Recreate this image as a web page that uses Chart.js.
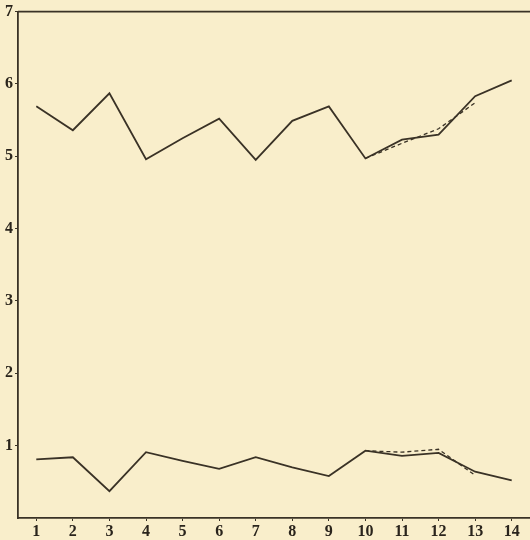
<!DOCTYPE html>
<html>
<head>
<meta charset="utf-8">
<script src="https://cdn.jsdelivr.net/npm/chart.js@4"></script>
<style>
  html, body { margin: 0; padding: 0; background: #f9eecb; }
  #wrap { width: 530px; height: 540px; position: relative; }
</style>
</head>
<body>
<div id="wrap"><canvas id="c" width="530" height="540"></canvas></div>
<script>
const days = [1, 2, 3, 4, 5, 6, 7, 8, 9, 10, 11, 12, 13, 14];
const upperSeries = [5.69, 5.36, 5.87, 4.96, 5.25, 5.52, 4.95, 5.49, 5.69, 4.97, 5.23, 5.30, 5.83, 6.05];
const lowerSeries = [0.81, 0.84, 0.37, 0.91, 0.79, 0.68, 0.84, 0.70, 0.58, 0.93, 0.86, 0.90, 0.64, 0.52];
const dashedDays = [10, 11, 12, 13];
const upperDashed = [4.97, 5.18, 5.38, 5.74];
const lowerDashed = [0.93, 0.91, 0.95, 0.59];
const xTickLabels = [1, 2, 3, 4, 5, 6, 7, 8, 9, 10, 11, 12, 13, 14];
const yTickLabels = [1, 2, 3, 4, 5, 6, 7];

const ink = '#3a3226';
const pts = (xs, ys) => xs.map((x, i) => ({ x: x, y: ys[i] }));

const lineDs = (data, dashed) => ({
  data: data,
  borderColor: ink,
  borderWidth: dashed ? 1.3 : 1.8,
  borderDash: dashed ? [4, 3] : [],
  pointRadius: 0,
  tension: 0,
  fill: false
});

const frame = {
  id: 'frame',
  afterDraw(chart) {
    const { ctx, chartArea: a } = chart;
    ctx.save();
    ctx.strokeStyle = ink;
    ctx.lineWidth = 1.6;
    ctx.beginPath();
    ctx.moveTo(a.left, a.top);
    ctx.lineTo(a.right, a.top);
    ctx.stroke();
    ctx.restore();
  }
};

new Chart(document.getElementById('c'), {
  type: 'line',
  data: {
    datasets: [
      lineDs(pts(days, upperSeries), false),
      lineDs(pts(days, lowerSeries), false),
      lineDs(pts(dashedDays, upperDashed), true),
      lineDs(pts(dashedDays, lowerDashed), true)
    ]
  },
  options: {
    responsive: false,
    animation: false,
    layout: { padding: { top: 11, right: 0, left: 0, bottom: 0 } },
    plugins: { legend: { display: false }, tooltip: { enabled: false } },
    scales: {
      x: {
        type: 'linear',
        min: 0.5,
        max: 14.5,
        afterBuildTicks: s => { s.ticks = xTickLabels.map(v => ({ value: v })); },
        afterFit: s => { s.height = 22; },
        border: { display: true, color: ink, width: 1.8 },
        grid: { drawOnChartArea: false, color: ink, tickLength: 3 },
        ticks: {
          color: '#2a241c',
          padding: 1,
          font: { family: 'Liberation Serif', size: 16, weight: 'bold' },
          maxRotation: 0,
          autoSkip: false
        }
      },
      y: {
        type: 'linear',
        min: 0,
        max: 7,
        afterBuildTicks: s => { s.ticks = yTickLabels.map(v => ({ value: v })); },
        afterFit: s => { s.width = 18; },
        border: { display: true, color: ink, width: 1.8 },
        grid: { drawOnChartArea: false, color: ink, tickLength: 3 },
        ticks: {
          color: '#2a241c',
          padding: 2,
          font: { family: 'Liberation Serif', size: 16, weight: 'bold' }
        }
      }
    }
  },
  plugins: [frame]
});
</script>
</body>
</html>
